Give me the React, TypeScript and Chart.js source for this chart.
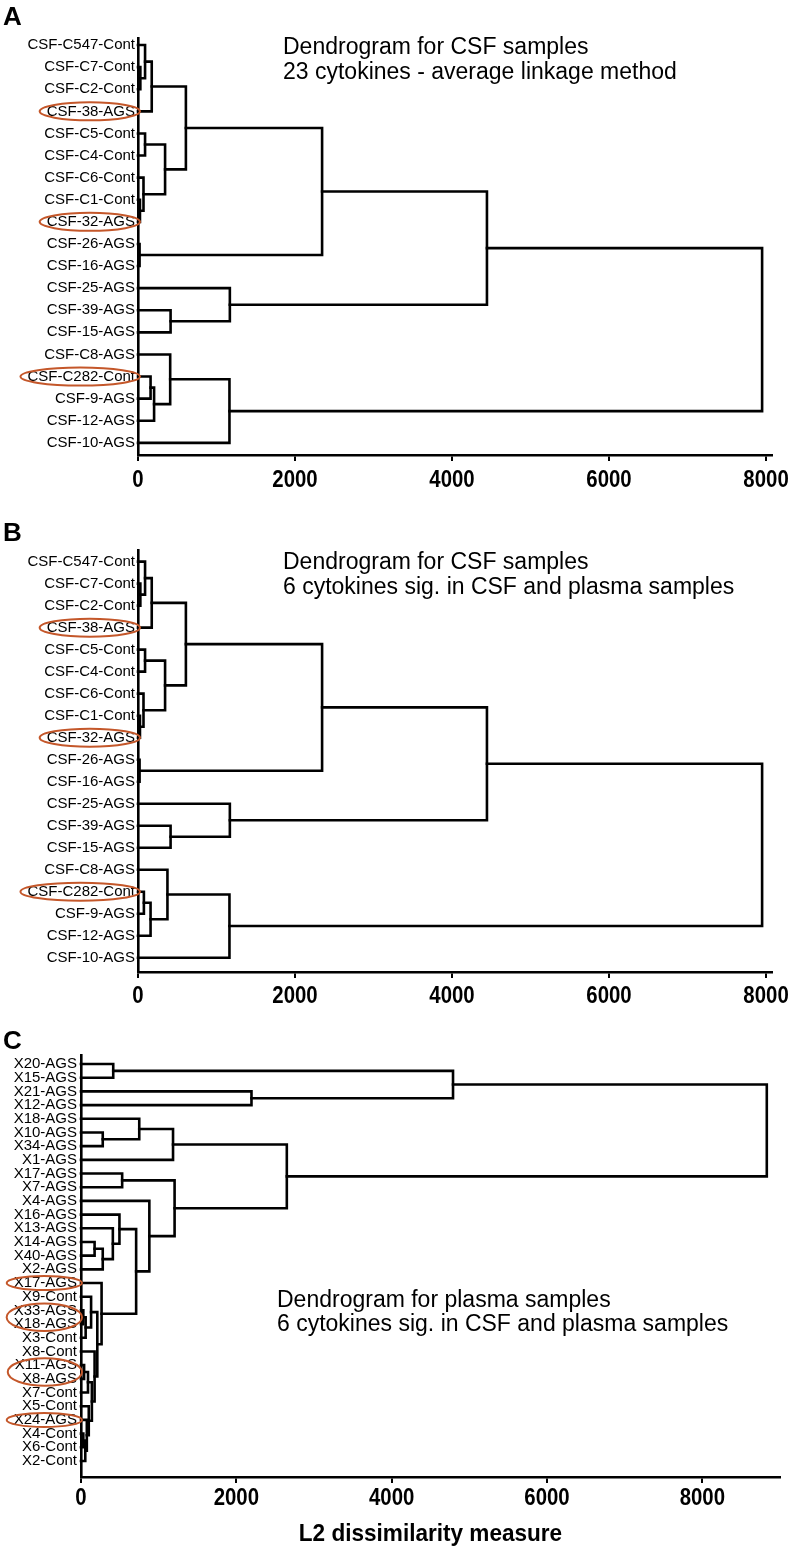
import React, { useEffect, useRef } from "react";
import { Chart, registerables } from "chart.js";

Chart.register(...registerables);

const FONT = "'Liberation Sans', Arial, Helvetica, sans-serif";

// ---------- Panel A / B leaves (CSF samples) ----------
const leavesCSF = [
  "CSF-C547-Cont", "CSF-C7-Cont", "CSF-C2-Cont", "CSF-38-AGS", "CSF-C5-Cont",
  "CSF-C4-Cont", "CSF-C6-Cont", "CSF-C1-Cont", "CSF-32-AGS", "CSF-26-AGS",
  "CSF-16-AGS", "CSF-25-AGS", "CSF-39-AGS", "CSF-15-AGS", "CSF-C8-AGS",
  "CSF-C282-Cont", "CSF-9-AGS", "CSF-12-AGS", "CSF-10-AGS",
];

// merges: [left node, right node, height]; new node ids continue after leaves
const mergesA: [number, number, number][] = [
  [1, 2, 30], [0, 19, 90], [20, 3, 175], [4, 5, 90], [7, 8, 25],
  [6, 23, 70], [22, 24, 345], [21, 25, 610], [9, 10, 20], [26, 27, 2345],
  [12, 13, 415], [11, 29, 1170], [28, 30, 4445], [15, 16, 160], [32, 17, 205],
  [14, 33, 410], [34, 18, 1165], [31, 35, 7950],
];

const mergesB: [number, number, number][] = [
  [1, 2, 30], [0, 19, 90], [20, 3, 175], [4, 5, 90], [7, 8, 25],
  [6, 23, 70], [22, 24, 345], [21, 25, 610], [9, 10, 20], [26, 27, 2345],
  [12, 13, 415], [11, 29, 1170], [28, 30, 4445], [15, 16, 75], [32, 17, 160],
  [14, 33, 375], [34, 18, 1165], [31, 35, 7950],
];

const circledCSF: [number, number][] = [[3, 3], [8, 8], [15, 15]];

// ---------- Panel C leaves (plasma samples) ----------
const leavesPlasma = [
  "X20-AGS", "X15-AGS", "X21-AGS", "X12-AGS", "X18-AGS", "X10-AGS", "X34-AGS",
  "X1-AGS", "X17-AGS", "X7-AGS", "X4-AGS", "X16-AGS", "X13-AGS", "X14-AGS",
  "X40-AGS", "X2-AGS", "X17-AGS", "X9-Cont", "X33-AGS", "X18-AGS", "X3-Cont",
  "X8-Cont", "X11-AGS", "X8-AGS", "X7-Cont", "X5-Cont", "X24-AGS", "X4-Cont",
  "X6-Cont", "X2-Cont",
];

const mergesC: [number, number, number][] = [
  [0, 1, 415], [2, 3, 2195], [30, 31, 4790], [5, 6, 280], [4, 33, 750],
  [34, 7, 1185], [8, 9, 530], [13, 14, 175], [37, 15, 280], [12, 38, 410],
  [11, 39, 495], [18, 19, 30], [41, 20, 60], [17, 42, 130], [22, 23, 40],
  [44, 24, 90], [27, 28, 30], [46, 29, 55], [26, 47, 75], [25, 48, 100],
  [45, 49, 140], [21, 50, 175], [43, 51, 210], [16, 52, 265], [40, 53, 710],
  [10, 54, 880], [36, 55, 1205], [35, 56, 2650], [32, 57, 8830],
];

const circledPlasma: [number, number][] = [[16, 16], [18, 19], [22, 23], [26, 26]];

const xTicks = [0, 2000, 4000, 6000, 8000];

const titleA = ["Dendrogram for CSF samples", "23 cytokines - average linkage method"];
const titleB = ["Dendrogram for CSF samples", "6 cytokines sig. in CSF and plasma samples"];
const titleC = ["Dendrogram for plasma samples", "6 cytokines sig. in CSF and plasma samples"];
const axisTitleC = "L2 dissimilarity measure";

type PanelCfg = {
  letter: string;
  letterBaseline: number;
  leaves: string[];
  merges: [number, number, number][];
  circled: [number, number][];
  title: string[];
  titleX: number;
  titleY: number[];
  axisTitle?: string;
  axisTitleY?: number;
  tickOffset: number;
  top: number;
  height: number;
  padTop: number;
  padRight: number;
  yAxisWidth: number;
  xAxisHeight: number;
  xMax: number;
  yMin: number;
  yMax: number;
  ry: number;
  labelPad: number;
};

function buildDatasets(nLeaves: number, merges: [number, number, number][]) {
  const pos: { x: number; y: number }[] = [];
  for (let i = 0; i < nLeaves; i++) pos.push({ x: 0, y: i });
  const datasets: any[] = [];
  merges.forEach(([a, b, h]) => {
    const pa = pos[a];
    const pb = pos[b];
    datasets.push({
      data: [
        { x: pa.x, y: pa.y },
        { x: h, y: pa.y },
        { x: h, y: pb.y },
        { x: pb.x, y: pb.y },
      ],
      showLine: true,
      borderColor: "#000",
      borderWidth: 2.6,
      pointRadius: 0,
      pointHoverRadius: 0,
      fill: false,
      tension: 0,
      borderJoinStyle: "miter",
      borderCapStyle: "square",
      clip: false,
    });
    pos.push({ x: h, y: (pa.y + pb.y) / 2 });
  });
  return datasets;
}

function drawScaled(ctx: CanvasRenderingContext2D, text: string, x: number, y: number, sx: number) {
  ctx.save();
  ctx.translate(x, y);
  ctx.scale(sx, 1);
  ctx.fillText(text, 0, 0);
  ctx.restore();
}

function makeOverlay(cfg: PanelCfg) {
  return {
    id: "overlay" + cfg.letter,
    afterDraw(chart: any) {
      const ctx = chart.ctx as CanvasRenderingContext2D;
      const ys = chart.scales.y;
      const xs = chart.scales.x;
      const area = chart.chartArea;
      ctx.save();
      ctx.fillStyle = "#000";
      // panel letter
      ctx.font = `bold 26px ${FONT}`;
      ctx.textAlign = "left";
      ctx.textBaseline = "alphabetic";
      ctx.fillText(cfg.letter, 3, cfg.letterBaseline);
      // title
      ctx.font = `23px ${FONT}`;
      ctx.textBaseline = "middle";
      cfg.title.forEach((t, i) => ctx.fillText(t, cfg.titleX, cfg.titleY[i]));
      // x tick labels (positioned through the x scale)
      ctx.font = `bold 24px ${FONT}`;
      ctx.textAlign = "center";
      xTicks.forEach((v) => {
        drawScaled(ctx, String(v), xs.getPixelForValue(v), area.bottom + cfg.tickOffset, 0.85);
      });
      // axis title
      if (cfg.axisTitle) {
        ctx.font = `bold 24px ${FONT}`;
        ctx.textAlign = "center";
        drawScaled(ctx, cfg.axisTitle, (area.left + area.right) / 2, cfg.axisTitleY as number, 0.94);
      }
      // circled labels
      ctx.font = `15px ${FONT}`;
      ctx.strokeStyle = "#c4572a";
      ctx.lineWidth = 2;
      const labelRight = area.left - cfg.labelPad;
      cfg.circled.forEach(([i0, i1]) => {
        let w = 0;
        for (let i = i0; i <= i1; i++) w = Math.max(w, ctx.measureText(cfg.leaves[i]).width);
        const cy = ys.getPixelForValue((i0 + i1) / 2);
        const spacing = Math.abs(ys.getPixelForValue(1) - ys.getPixelForValue(0));
        const ry = cfg.ry + ((i1 - i0) * spacing) / 2;
        const cx = labelRight - w / 2 - 1;
        const rx = w / 2 + 6;
        ctx.beginPath();
        ctx.ellipse(cx, cy, rx, ry, 0, 0, Math.PI * 2);
        ctx.stroke();
      });
      ctx.restore();
    },
  };
}

function Panel({ cfg }: { cfg: PanelCfg }) {
  const ref = useRef<HTMLCanvasElement | null>(null);
  useEffect(() => {
    if (!ref.current) return;
    const chart = new Chart(ref.current, {
      type: "scatter",
      data: { datasets: buildDatasets(cfg.leaves.length, cfg.merges) },
      options: {
        animation: false,
        responsive: false,
        events: [],
        layout: { padding: { top: cfg.padTop, right: cfg.padRight, left: 0, bottom: 0 } },
        plugins: { legend: { display: false }, tooltip: { enabled: false }, title: { display: false } },
        scales: {
          x: {
            type: "linear",
            min: 0,
            max: cfg.xMax,
            afterBuildTicks: (axis: any) => {
              axis.ticks = xTicks.map((v) => ({ value: v }));
            },
            ticks: {
              display: false,
              autoSkip: false,
              maxRotation: 0,
            },
            grid: {
              display: true,
              drawOnChartArea: false,
              drawTicks: true,
              tickLength: 6,
              color: "#000",
              lineWidth: 2,
            },
            border: { display: true, color: "#000", width: 2.6 },
            afterFit: (s: any) => {
              s.height = cfg.xAxisHeight;
            },
          },
          y: {
            type: "linear",
            reverse: true,
            min: cfg.yMin,
            max: cfg.yMax,
            afterBuildTicks: (axis: any) => {
              axis.ticks = cfg.leaves.map((_, i) => ({ value: i }));
            },
            ticks: {
              color: "#000",
              padding: cfg.labelPad,
              autoSkip: false,
              font: { size: 15, family: FONT },
              callback: (v: any) => cfg.leaves[v as number] ?? "",
            },
            grid: { display: false, drawTicks: false, tickLength: 0 },
            border: { display: true, color: "#000", width: 2.6 },
            afterFit: (s: any) => {
              s.width = cfg.yAxisWidth;
            },
          },
        },
      } as any,
      plugins: [makeOverlay(cfg)],
    });
    return () => chart.destroy();
  }, [cfg]);
  return (
    <canvas
      ref={ref}
      width={796}
      height={cfg.height}
      style={{ position: "absolute", left: 0, top: cfg.top, width: 796, height: cfg.height }}
    />
  );
}

const cfgA: PanelCfg = {
  letter: "A",
  letterBaseline: 25,
  leaves: leavesCSF,
  merges: mergesA,
  circled: circledCSF,
  title: titleA,
  titleX: 283,
  titleY: [48, 73],
  tickOffset: 25,
  top: 0,
  height: 505,
  padTop: 38,
  padRight: 24,
  yAxisWidth: 138,
  xAxisHeight: 50,
  xMax: 8076,
  yMin: -0.32,
  yMax: 18.55,
  ry: 9,
  labelPad: 3,
};

const cfgB: PanelCfg = {
  letter: "B",
  letterBaseline: 26,
  leaves: leavesCSF,
  merges: mergesB,
  circled: circledCSF,
  title: titleB,
  titleX: 283,
  titleY: [48, 73],
  tickOffset: 24,
  top: 515,
  height: 500,
  padTop: 35,
  padRight: 24,
  yAxisWidth: 138,
  xAxisHeight: 43,
  xMax: 8076,
  yMin: -0.53,
  yMax: 18.65,
  ry: 9,
  labelPad: 3,
};

const cfgC: PanelCfg = {
  letter: "C",
  letterBaseline: 19,
  leaves: leavesPlasma,
  merges: mergesC,
  circled: circledPlasma,
  title: titleC,
  titleX: 277,
  titleY: [271, 295],
  axisTitle: axisTitleC,
  axisTitleY: 504,
  tickOffset: 21,
  top: 1030,
  height: 525,
  padTop: 25,
  padRight: 16,
  yAxisWidth: 81,
  xAxisHeight: 78,
  xMax: 9000,
  yMin: -0.66,
  yMax: 30.17,
  ry: 7,
  labelPad: 4,
};

export default function App() {
  return (
    <div style={{ position: "absolute", left: 0, top: 0, width: 796, height: 1555, background: "#fff" }}>
      <Panel cfg={cfgA} />
      <Panel cfg={cfgB} />
      <Panel cfg={cfgC} />
    </div>
  );
}
